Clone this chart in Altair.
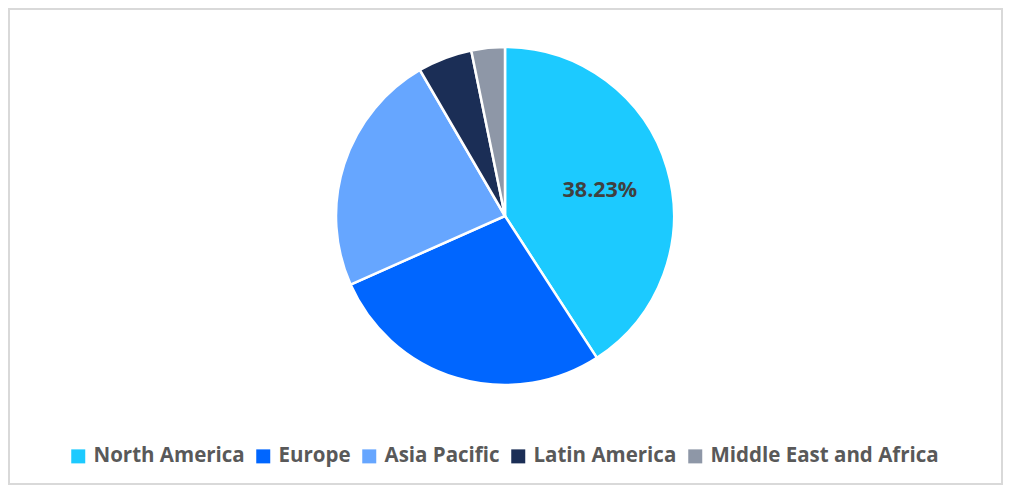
import altair as alt
import pandas as pd

regions = ["North America", "Europe", "Asia Pacific", "Latin America", "Middle East and Africa"]
shares = [40.85, 27.5, 23.25, 5.2, 3.2]
labels = ["38.23%", "", "", "", ""]
colors = ["#1CCAFF", "#0066FF", "#66A6FF", "#1B2E56", "#8E97A7"]

df = pd.DataFrame({"region": regions, "share": shares, "label": labels, "order": list(range(len(regions)))})

W, H = 995, 477
CX, CY = 497, 208
R = 169

base = alt.Chart(df)

pie = base.mark_arc(x=CX, y=CY, outerRadius=R, stroke="white", strokeWidth=2.5).encode(
    theta=alt.Theta("share:Q", stack=True),
    order=alt.Order("order:Q"),
    color=alt.Color(
        "region:N",
        sort=regions,
        scale=alt.Scale(domain=regions, range=colors),
        legend=alt.Legend(
            title=None,
            orient="none",
            direction="horizontal",
            columns=5,
            legendX=60,
            legendY=438,
            symbolType="square",
            symbolSize=196,
            symbolStrokeWidth=0,
            labelFont="Open Sans",
            labelFontSize=20.5,
            labelFontWeight="bold",
            labelColor="#595959",
            labelOffset=5,
            columnPadding=8,
            labelLimit=400,
        ),
    ),
)

text = base.mark_text(x=CX, y=CY, radius=100, dy=3, dx=-1, font="Open Sans", fontSize=21.5, fontWeight="bold", color="#404040").encode(
    theta=alt.Theta("share:Q", stack=True),
    order=alt.Order("order:Q"),
    text="label:N",
)

frame = alt.Chart(pd.DataFrame({"a": [0]})).mark_rect(fill=None, stroke="#D9D9D9", strokeWidth=2).encode(
    x=alt.value(1), x2=alt.value(W - 1), y=alt.value(1), y2=alt.value(H - 1)
)

chart = alt.layer(frame, pie, text).properties(
    width=W, height=H, padding=0, autosize=alt.AutoSizeParams(type="none"), background="white"
).configure_view(stroke=None)

chart.save("out.html", embed_options={"renderer": "svg", "actions": False})
